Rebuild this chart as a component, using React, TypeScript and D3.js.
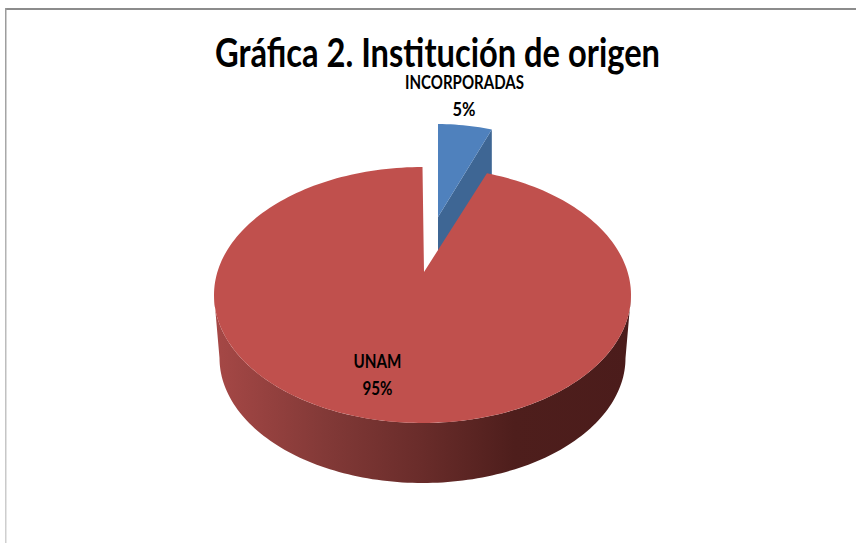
import React from 'react';
import * as d3 from 'd3';

const categories = ['INCORPORADAS', 'UNAM'];
const values = [5, 95];
const percentLabels = ['5%', '95%'];
const title = 'Gráfica 2. Institución de origen';

const width = 856;
const height = 543;

// top face of the main slice, the apex sits above the ellipse centre because of the 3D perspective
const face = { cx: 422.5, cy: 295, rx: 208.5, ry: 128 };
const base = { cx: 422.5, cy: 358, rx: 203, ry: 125 };
const apex = { x: 424, y: 272 };
// exploded slice is moved up and shrinks a little
const exploded = { x: 438, y: 217, scaleX: 0.835, scaleY: 0.885, depth: 50 };

type Pt = [number, number];

const rim = (e: typeof face, a: number): Pt => [e.cx + e.rx * Math.sin(a), e.cy - e.ry * Math.cos(a)];

const sweep = (e: typeof face, a0: number, a1: number): Pt[] => {
  const n = Math.ceil(Math.abs(a1 - a0) * 40);
  return d3.range(n + 1).map((i) => rim(e, a0 + ((a1 - a0) * i) / n));
};

const line = d3.line<Pt>();

const arcs = d3.pie<number>().sort(null).startAngle(0).endAngle(2 * Math.PI)(values);

export default function App() {
  const [blue, red] = arcs;

  const blueFace = {
    cx: exploded.x,
    cy: exploded.y + (face.cy - apex.y) * exploded.scaleY,
    rx: face.rx * exploded.scaleX,
    ry: face.ry * exploded.scaleY,
  };
  const blueEnd = rim(blueFace, blue.endAngle);
  const blueApex: Pt = [exploded.x, exploded.y];

  const blueTop = line([blueApex, ...sweep(blueFace, blue.startAngle, blue.endAngle)]) + 'Z';
  const blueWall =
    line([
      blueApex,
      blueEnd,
      [blueEnd[0], blueEnd[1] + exploded.depth],
      [blueApex[0], blueApex[1] + exploded.depth],
    ]) + 'Z';

  const redTop = line([[apex.x, apex.y], ...sweep(face, red.startAngle, red.endAngle)]) + 'Z';

  // outer wall: lower half of both ellipses
  const redWall =
    line([
      ...sweep(face, Math.PI / 2, (3 * Math.PI) / 2),
      ...sweep(base, (3 * Math.PI) / 2, Math.PI / 2),
    ]) + 'Z';

  return (
    <svg
      width={width}
      height={height}
      style={{ position: 'absolute', left: 0, top: 0, background: '#fff' }}
    >
      <defs>
        <linearGradient id="wall" gradientUnits="userSpaceOnUse" x1={214} x2={631} y1={0} y2={0}>
          <stop offset="0" stopColor="#a64846" />
          <stop offset="0.27" stopColor="#823937" />
          <stop offset="0.5" stopColor="#692c2a" />
          <stop offset="0.72" stopColor="#4e1e1c" />
          <stop offset="1" stopColor="#4b1c1b" />
        </linearGradient>
        <linearGradient id="frameLeft" x1="0" x2="0" y1="0" y2="1">
          <stop offset="0" stopColor="#9a9a9a" />
          <stop offset="1" stopColor="#d0d0d0" />
        </linearGradient>
      </defs>

      <rect x={5} y={8} width={width - 5} height={2} fill="#8c8c8c" />
      <rect x={5} y={8} width={1.5} height={height - 8} fill="url(#frameLeft)" />

      <path d={blueWall} fill="#3e6694" />
      <path d={blueTop} fill="#4f81bd" />
      <path d={redWall} fill="url(#wall)" />
      <path d={redTop} fill="#c0504d" />

      <g fontFamily="Lato, 'Open Sans', sans-serif" fontWeight={700} textAnchor="middle" fill="#000">
        <text x={437.5} y={67} fontSize={40} textLength={445} lengthAdjust="spacingAndGlyphs">
          {title}
        </text>
        <text x={464.5} y={89} fontSize={19} textLength={119} lengthAdjust="spacingAndGlyphs">
          {categories[0]}
        </text>
        <text x={464} y={116} fontSize={19} textLength={23} lengthAdjust="spacingAndGlyphs">
          {percentLabels[0]}
        </text>
        <text x={377.5} y={368} fontSize={19} textLength={48} lengthAdjust="spacingAndGlyphs">
          {categories[1]}
        </text>
        <text x={377.5} y={395} fontSize={19} textLength={30} lengthAdjust="spacingAndGlyphs">
          {percentLabels[1]}
        </text>
      </g>
    </svg>
  );
}
